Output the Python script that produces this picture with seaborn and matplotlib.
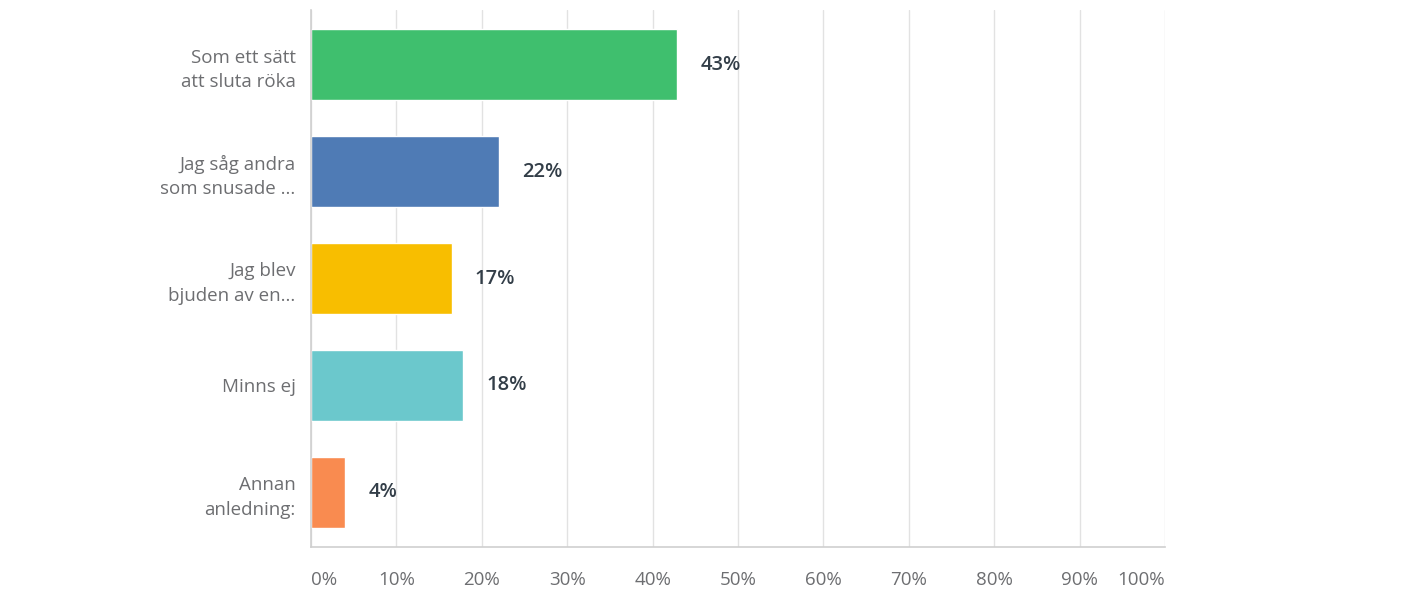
import matplotlib
matplotlib.use("Agg")
import matplotlib.pyplot as plt
import seaborn as sns
import pandas as pd

categories = ["Som ett sätt\natt sluta röka", "Jag såg andra\nsom snusade ...", "Jag blev\nbjuden av en...", "Minns ej", "Annan\nanledning:"]
values = [42.9, 22.0, 16.5, 17.8, 4.0]
value_labels = ["43%", "22%", "17%", "18%", "4%"]
colors = ["#3fbf6e", "#4f7bb5", "#f8be00", "#6bc8cc", "#f98b50"]
ticks = [0, 10, 20, 30, 40, 50, 60, 70, 80, 90, 100]
tick_labels = ["0%", "10%", "20%", "30%", "40%", "50%", "60%", "70%", "80%", "90%", "100%"]

sns.set_theme(style="white")
plt.rcParams['font.family'] = ['Open Sans', 'DejaVu Sans']

df = pd.DataFrame({"cat": categories, "val": values})

fig = plt.figure(figsize=(14.2, 6), dpi=100)
ax = fig.add_axes([311/1420, 1-547/600, (1165-311)/1420, (547-10)/600])

sns.barplot(data=df, x="val", y="cat", hue="cat", palette=colors, legend=False,
            orient="h", width=0.664, ax=ax, saturation=1)

ax.set_xlim(0, 100)
ax.set_ylim(4.51, -0.51)
ax.set_xticks(ticks)
ax.set_xticklabels(tick_labels)
for i, t in enumerate(ax.get_xticklabels()):
    if i == 0:
        t.set_ha("left")
    elif i == len(ticks) - 1:
        t.set_ha("right")
    else:
        t.set_ha("center")
ax.tick_params(axis="x", length=0, pad=17, labelsize=13.5, labelcolor="#6d6e71")
ax.tick_params(axis="y", length=0, pad=11, labelsize=13.5, labelcolor="#6d6e71")
ax.set_xlabel("")
ax.set_ylabel("")
for lab in ax.get_yticklabels():
    lab.set_ha("right")
    lab.set_linespacing(1.45)

ax.grid(axis="x", color="#e2e2e2", linewidth=1)
ax.set_axisbelow(True)
for s in ["top", "right"]:
    ax.spines[s].set_visible(False)
for s in ["left", "bottom"]:
    ax.spines[s].set_color("#cfcfcf")
    ax.spines[s].set_linewidth(1.2)

for i, (v, lab) in enumerate(zip(values, value_labels)):
    ax.text(v + 2.7, i, lab, va="center", ha="left", fontsize=14.5,
            fontweight="semibold", color="#333e48")

fig.savefig("out.png", dpi=100, facecolor="white")
